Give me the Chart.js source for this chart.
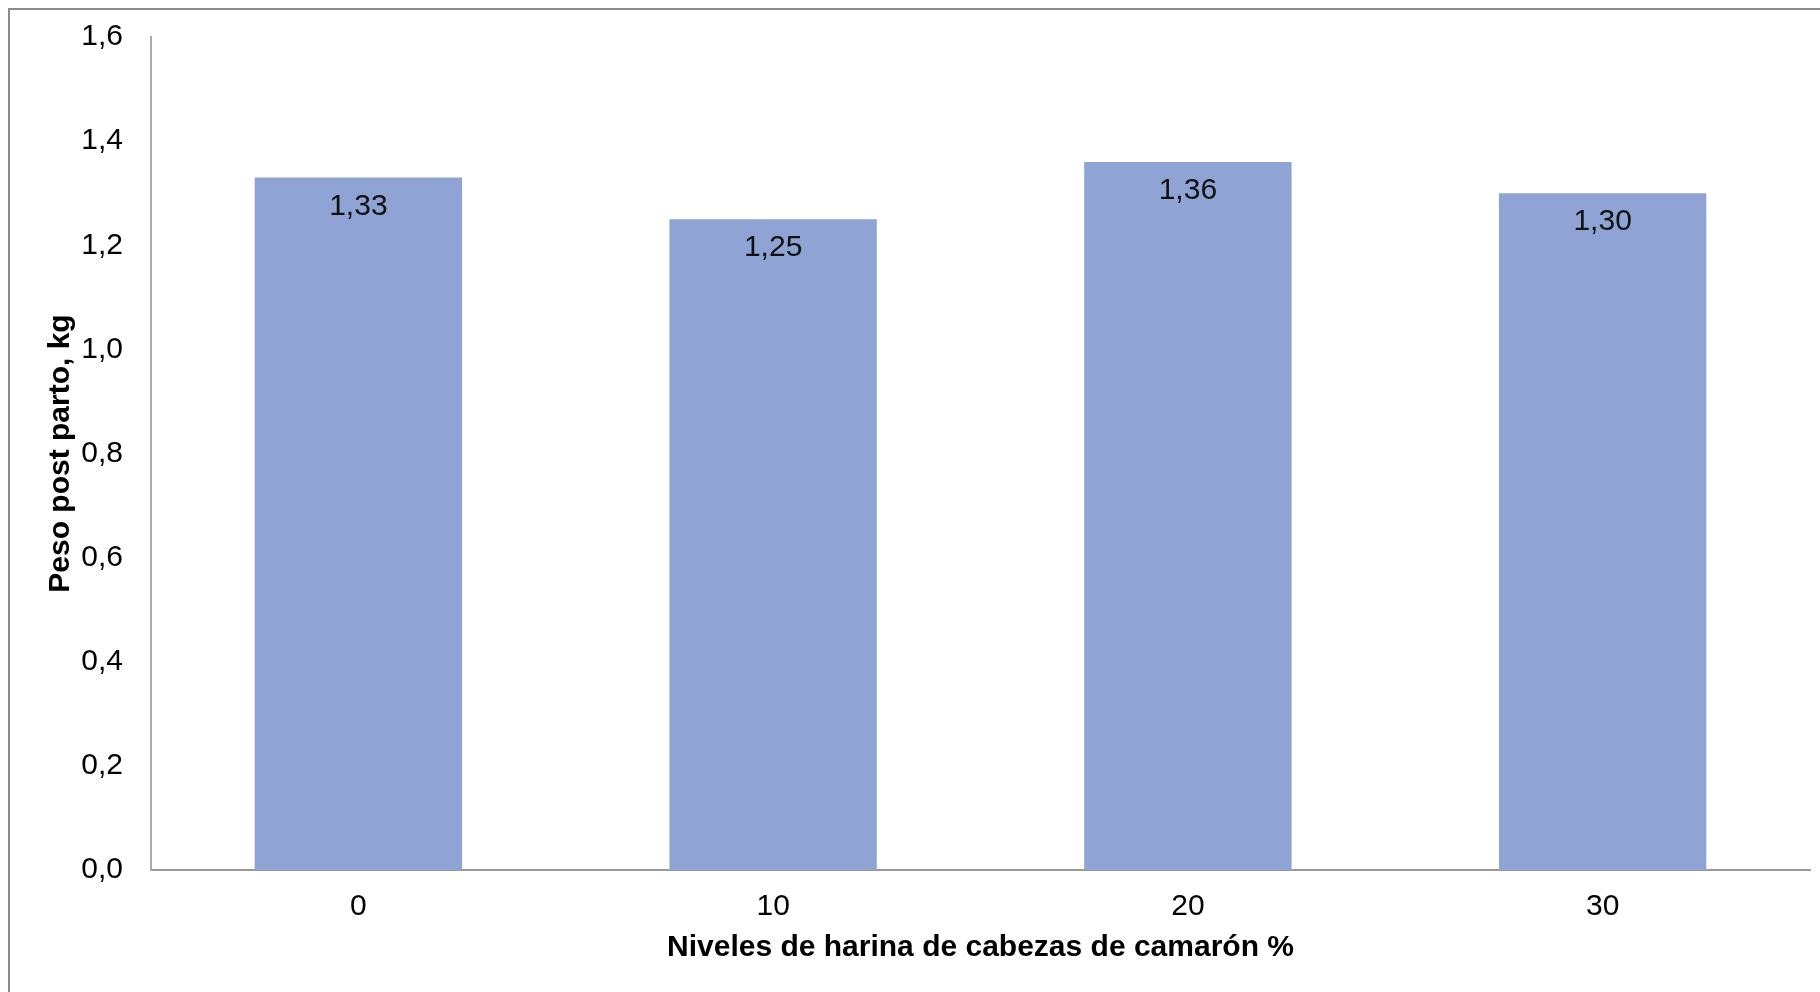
<!DOCTYPE html>
<html lang="es">
<head>
<meta charset="utf-8">
<title>Peso post parto</title>
<script src="https://cdn.jsdelivr.net/npm/chart.js@4/dist/chart.umd.min.js"></script>
<style>
  html, body { margin: 0; padding: 0; background: #fff; overflow: hidden; }
  #wrap { position: relative; width: 1820px; height: 992px; }
  #frame {
    position: absolute; left: 8px; top: 8px; width: 2000px; height: 2000px;
    border-top: 2px solid #8a8a8a; border-left: 2px solid #8a8a8a;
    pointer-events: none;
  }
  canvas { position: absolute; left: 0; top: 0; }
</style>
</head>
<body>
<div id="wrap">
  <div id="frame"></div>
  <canvas id="pesoChart" width="1820" height="992"></canvas>
</div>
<script>
// Niveles de harina de cabezas de camarón (%) y peso post parto (kg)
const niveles = ['0', '10', '20', '30'];
const pesoPostParto = [1.33, 1.25, 1.36, 1.30];
const yTicks = { min: 0, max: 1.6, step: 0.2 };

const FONT = '"Liberation Sans", Arial, sans-serif';
const fmt = (v, d) => v.toFixed(d).replace('.', ',');

// value labels just under the top of each bar
const barLabels = {
  id: 'barLabels',
  afterDatasetsDraw(chart) {
    const { ctx } = chart;
    const meta = chart.getDatasetMeta(0);
    ctx.save();
    ctx.font = '30px ' + FONT;
    ctx.fillStyle = '#111';
    ctx.textAlign = 'center';
    ctx.textBaseline = 'middle';
    meta.data.forEach((bar, i) => {
      ctx.fillText(fmt(pesoPostParto[i], 2), bar.x, bar.y + 29);
    });
    ctx.restore();
  }
};

new Chart(document.getElementById('pesoChart'), {
  type: 'bar',
  data: {
    labels: niveles,
    datasets: [{
      data: pesoPostParto,
      backgroundColor: '#8FA4D4',
      borderWidth: 0,
      barPercentage: 0.5,
      categoryPercentage: 1.0
    }]
  },
  options: {
    responsive: false,
    animation: false,
    layout: { padding: { top: 37, right: 10, bottom: 0, left: 0 } },
    plugins: {
      legend: { display: false },
      tooltip: { enabled: false }
    },
    scales: {
      x: {
        grid: { display: false, drawTicks: false },
        border: { display: true, color: '#9a9a9a', width: 2 },
        ticks: { color: '#000', font: { family: FONT, size: 30 }, padding: 19 },
        title: {
          display: true,
          text: 'Niveles de harina de cabezas de camarón %',
          color: '#000',
          font: { family: FONT, size: 30, weight: 'bold' },
          padding: { top: 0, bottom: 26 }
        },
        afterFit(scale) { scale.height = 122; }
      },
      y: {
        min: yTicks.min,
        max: yTicks.max,
        grid: { display: false, drawTicks: false },
        border: { display: true, color: '#ababab', width: 2 },
        ticks: {
          stepSize: yTicks.step,
          color: '#000',
          font: { family: FONT, size: 30 },
          padding: 28,
          callback: v => fmt(v, 1)
        },
        title: {
          display: true,
          text: 'Peso post parto, kg',
          color: '#000',
          font: { family: FONT, size: 30, weight: 'bold' },
          padding: { top: 43, bottom: 0 }
        },
        afterFit(scale) {
          scale.width = 151;
          scale.paddingTop = 0;
          scale.paddingBottom = 0;
        }
      }
    }
  },
  plugins: [barLabels]
});
</script>
</body>
</html>
